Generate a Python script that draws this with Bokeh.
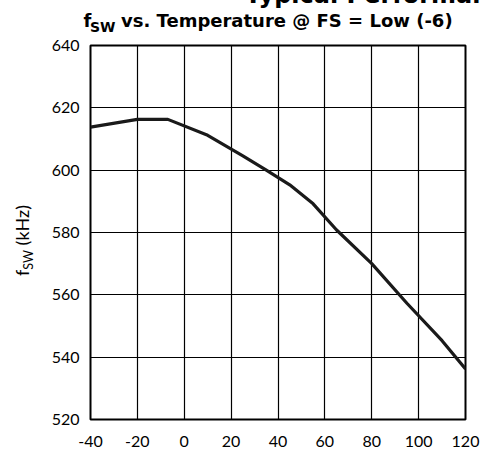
from bokeh.plotting import figure
from bokeh.layouts import column, row
from bokeh.models import FixedTicker, Range1d, Div
from bokeh.embed import file_html
from bokeh.resources import INLINE

# ---- data ----
temperature_c = [-40, -20, -7, 10, 25, 35, 45, 55, 65, 80, 95, 110, 120]
fsw_khz = [613.8, 616.3, 616.3, 611.2, 604.6, 600.0, 595.3, 589.2, 580.8, 570.0, 557.3, 545.3, 536.2]
x_ticks = [-40, -20, 0, 20, 40, 60, 80, 100, 120]
y_ticks = [520, 540, 560, 580, 600, 620, 640]
top_title = "Typical Performance Characteristics"
subtitle_main = "f"
subtitle_sub = "SW"
subtitle_rest = "vs. Temperature @ FS = Low (-6)"
ylabel_main = "f"
ylabel_sub = "SW"
ylabel_rest = "(kHz)"

# ---- layout (page pixels) ----
PW, PH = 482, 450
HEAD_H = 34
LAB_W = 40
FL, FR, FT, FB = 90, 465, 45, 419
TITLE_FONT = "DejaVu Sans"
LABEL_FONT = "Lato"
DJV_BASE = 0.846   # baseline offset (em) with line-height 1, DejaVu Sans
LATO_BASE = 0.887  # baseline offset (em) with line-height 1, Lato


def span(txt, left, baseline, size, base, extra=""):
    top = baseline - base * size
    return (f'<span style="position:absolute;left:{left}px;top:{top:.1f}px;'
            f'font-size:{size}px;line-height:1;white-space:nowrap;{extra}">{txt}</span>')


head_html = (
    f'<div style="position:relative;width:{PW}px;height:{HEAD_H}px;overflow:hidden;'
    f'font-family:\'{TITLE_FONT}\';font-weight:bold;color:#000;margin:0;padding:0;">'
    + span(top_title, 245, 3.5, 24, DJV_BASE)
    + span(subtitle_main, 83.5, 27.3, 18, DJV_BASE)
    + span(subtitle_sub, 90, 31.7, 14, DJV_BASE)
    + span(subtitle_rest, 121, 27.3, 18, DJV_BASE)
    + '</div>'
)
head = Div(text=head_html, width=PW, height=HEAD_H, margin=(0, 0, 0, 0))

# rotated y-axis label: container rotated -90deg about its top-left corner
LB_SIZE = 18
lab_left = 29 - LATO_BASE * LB_SIZE       # baseline lands at page x = 29
lab_top = 276 - HEAD_H                    # text starts at page y = 276
ylab_html = (
    f'<div style="position:relative;width:{LAB_W}px;height:{PH - HEAD_H}px;overflow:hidden;'
    f'font-family:\'{LABEL_FONT}\';color:#000;margin:0;padding:0;">'
    f'<div style="position:absolute;left:{lab_left:.1f}px;top:{lab_top}px;'
    f'transform-origin:0 0;transform:rotate(-90deg);white-space:nowrap;line-height:1;">'
    f'<span style="font-size:{LB_SIZE}px;">{ylabel_main}</span>'
    f'<span style="font-size:12.5px;position:relative;top:3.5px;">{ylabel_sub}</span>'
    f'<span style="font-size:{LB_SIZE}px;">&nbsp;{ylabel_rest}</span>'
    '</div></div>'
)
ylab = Div(text=ylab_html, width=LAB_W, height=PH - HEAD_H, margin=(0, 0, 0, 0))

# main chart
MW = PW - LAB_W
MH = PH - HEAD_H
p = figure(width=MW, height=MH, output_backend="svg", toolbar_location=None,
           x_range=Range1d(x_ticks[0], x_ticks[-1]), y_range=Range1d(y_ticks[0], y_ticks[-1]),
           min_border_left=FL - LAB_W, min_border_right=PW - FR,
           min_border_top=FT - HEAD_H, min_border_bottom=PH - FB)
p.background_fill_color = "white"
p.border_fill_color = "white"
p.outline_line_color = "black"
p.outline_line_width = 2

for ax in (p.xaxis[0], p.yaxis[0]):
    ax.axis_line_color = None
    ax.major_tick_line_color = None
    ax.minor_tick_line_color = None
    ax.major_tick_in = 0
    ax.major_tick_out = 0
    ax.minor_tick_in = 0
    ax.minor_tick_out = 0
    ax.major_label_text_font = LABEL_FONT
    ax.major_label_text_font_size = "16px"
    ax.major_label_text_color = "black"

p.xaxis.ticker = FixedTicker(ticks=x_ticks)
p.yaxis.ticker = FixedTicker(ticks=y_ticks)
p.xaxis.major_label_overrides = {t: str(t) for t in x_ticks}
p.yaxis.major_label_overrides = {t: str(t) for t in y_ticks}
p.xaxis.major_label_standoff = 16
p.yaxis.major_label_standoff = 11

p.xgrid.ticker = FixedTicker(ticks=x_ticks)
p.ygrid.ticker = FixedTicker(ticks=y_ticks)
for g in (p.xgrid[0], p.ygrid[0]):
    g.grid_line_color = "black"
    g.grid_line_width = 1.2

p.line(temperature_c, fsw_khz, line_color="#1a1a1a", line_width=3.2)

layout = column(head, row(ylab, p, spacing=0), spacing=0)

open("out.html", "w").write(file_html(layout, INLINE))
